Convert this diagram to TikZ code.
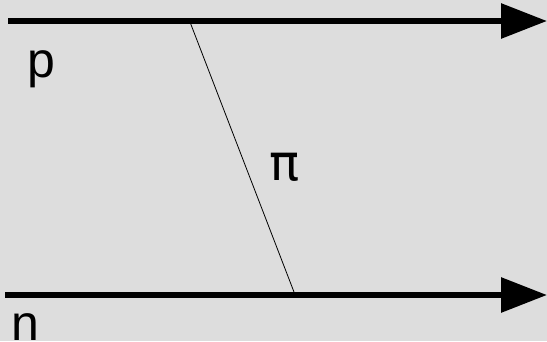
\documentclass[tikz,border=0pt]{standalone}
\usepackage{fontspec}
\setmainfont{Liberation Sans}
\newfontfamily\pifont{DejaVu Sans}
\usetikzlibrary{arrows.meta}
\definecolor{bg}{RGB}{221,221,221}
\tikzset{
  thickarrow/.style={line width=6pt,-{Triangle[length=46pt,width=34pt]}},
  thinline/.style={line width=0.8pt},
  lbl/.style={anchor=base,inner sep=0pt,font=\fontsize{50}{60}\selectfont}
}
\begin{document}
\begin{tikzpicture}[x=1pt,y=-1pt]
\fill[bg] (0,0) rectangle (547,341);
\useasboundingbox (0,0) rectangle (547,341);
\coordinate (ps) at (8,21);
\coordinate (pe) at (547,21);
\coordinate (ns) at (5,295);
\coordinate (ne) at (547,295);
\coordinate (pi1) at (190,22);
\coordinate (pi2) at (294,292);
\draw[thickarrow] (ps) -- (pe);
\draw[thickarrow] (ns) -- (ne);
\draw[thinline] (pi1) -- (pi2);
\node[lbl] (plabel) at (41,77) {p};
\node[lbl] (nlabel) at (25,340) {n};
\node[lbl,font=\fontsize{50}{60}\pifont] (pilabel) at (285,180) {π};
\end{tikzpicture}
\end{document}
